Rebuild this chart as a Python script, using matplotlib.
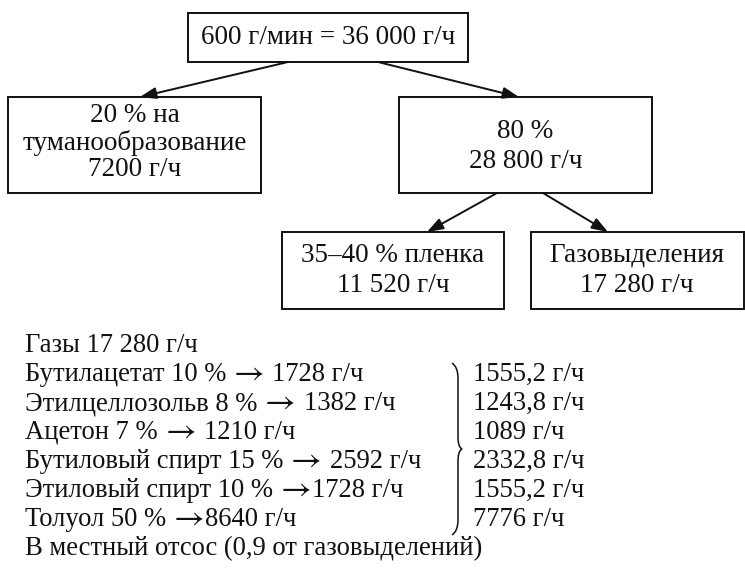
import matplotlib
matplotlib.use("Agg")
import matplotlib.pyplot as plt
from matplotlib.patches import Rectangle, FancyArrowPatch, PathPatch
from matplotlib.path import Path
from matplotlib.font_manager import FontProperties

plt.rcParams['font.family'] = ['Liberation Serif', 'DejaVu Serif']

# ---- data ----
top_label = "600 г/мин = 36 000 г/ч"
mist_label = ["20 % на", "туманообразование", "7200 г/ч"]
rest_label = ["80 %", "28 800 г/ч"]
film_label = ["35–40 % пленка", "11 520 г/ч"]
gas_label = ["Газовыделения", "17 280 г/ч"]

gas_header = "Газы 17 280 г/ч"
components = ["Бутилацетат", "Этилцеллозольв", "Ацетон", "Бутиловый спирт",
              "Этиловый спирт", "Толуол"]
percents = ["10 %", "8 %", "7 %", "15 %", "10 %", "50 %"]
space_after_arrow = [True, True, True, True, False, False]
rates = ["1728 г/ч", "1382 г/ч", "1210 г/ч", "2592 г/ч", "1728 г/ч", "8640 г/ч"]
local_exhaust = ["1555,2 г/ч", "1243,8 г/ч", "1089 г/ч", "2332,8 г/ч",
                 "1555,2 г/ч", "7776 г/ч"]
footer = "В местный отсос (0,9 от газовыделений)"

W, H = 745, 568
fig = plt.figure(figsize=(W / 100, H / 100), dpi=100)
ax = fig.add_axes([0, 0, 1, 1])
ax.set_xlim(0, W)
ax.set_ylim(H, 0)
ax.axis('off')
renderer = fig.canvas.get_renderer()

FS = 19.5
FSB = 19.2
LW = 1.4
INK = '#111111'

def box(x0, y0, x1, y1, lines, centers):
    ax.add_patch(Rectangle((x0, y0), x1 - x0, y1 - y0, fill=False,
                           edgecolor=INK, lw=LW))
    cx = (x0 + x1) / 2
    for t, cy in zip(lines, centers):
        ax.text(cx, cy, t, ha='center', va='center', fontsize=FS, color=INK)

box(188, 13, 468, 62, [top_label], [37])
box(8, 97, 261, 193, mist_label, [115, 143, 170])
box(399, 97, 652, 193, rest_label, [132, 161])
box(282, 232, 504, 309, film_label, [255, 286])
box(531, 232, 743.5, 309, gas_label, [255, 286])

def arrow(p0, p1):
    ax.add_patch(FancyArrowPatch(p0, p1, arrowstyle='-|>,head_length=0.7,head_width=0.25',
                                 mutation_scale=14, lw=LW, color=INK,
                                 shrinkA=0, shrinkB=0))

arrow((288, 62), (140, 97))
arrow((378, 62), (519, 97))
arrow((497, 193), (427, 232))
arrow((543, 193), (608, 232))

# ---- bottom text block ----
FP_MAIN = FontProperties(family=['Liberation Serif'], size=FSB)
FP_ARROW = FontProperties(family=['STIXGeneral', 'DejaVu Serif'], size=FSB * 1.25)

def width(s, fp):
    w, h, d = renderer.get_text_width_height_descent(s, fp, ismath=False)
    return w  # 1 data unit == 1 pixel

def put(x, y, s, fp=FP_MAIN):
    ax.text(x, y, s, ha='left', va='baseline', fontproperties=fp, color=INK)
    return x + width(s, fp)

x_left = 25
y0 = 352
dy = 29
space_w = width("a a", FP_MAIN) - width("aa", FP_MAIN)
put(x_left, y0, gas_header)
for i, (c, p, sp, r, v) in enumerate(zip(components, percents, space_after_arrow,
                                         rates, local_exhaust)):
    y = y0 + dy * (i + 1)
    x = put(x_left, y, f"{c} {p}") + space_w + 1
    x = put(x, y + 1, "→", FP_ARROW)
    if sp:
        x += space_w + 1
    put(x, y, r)
    put(473, y, v)
put(x_left, y0 + dy * 7, footer)

# closing brace
bx, top, bot = 452, 363, 535
mid = (top + bot) / 2
w = 10
verts = [(bx, top), (bx + w * 0.6, top + 4), (bx + w * 0.6, top + 15),
         (bx + w * 0.6, mid - 12), (bx + w * 0.6, mid - 2), (bx + w, mid),
         (bx + w * 0.6, mid + 2), (bx + w * 0.6, mid + 12),
         (bx + w * 0.6, bot - 15), (bx + w * 0.6, bot - 4), (bx, bot)]
codes = [Path.MOVETO, Path.CURVE3, Path.CURVE3, Path.LINETO, Path.CURVE3, Path.CURVE3,
         Path.CURVE3, Path.CURVE3, Path.LINETO, Path.CURVE3, Path.CURVE3]
ax.add_patch(PathPatch(Path(verts, codes), fill=False, lw=1.1, edgecolor=INK))

fig.savefig("out.png", dpi=100, facecolor='white')
